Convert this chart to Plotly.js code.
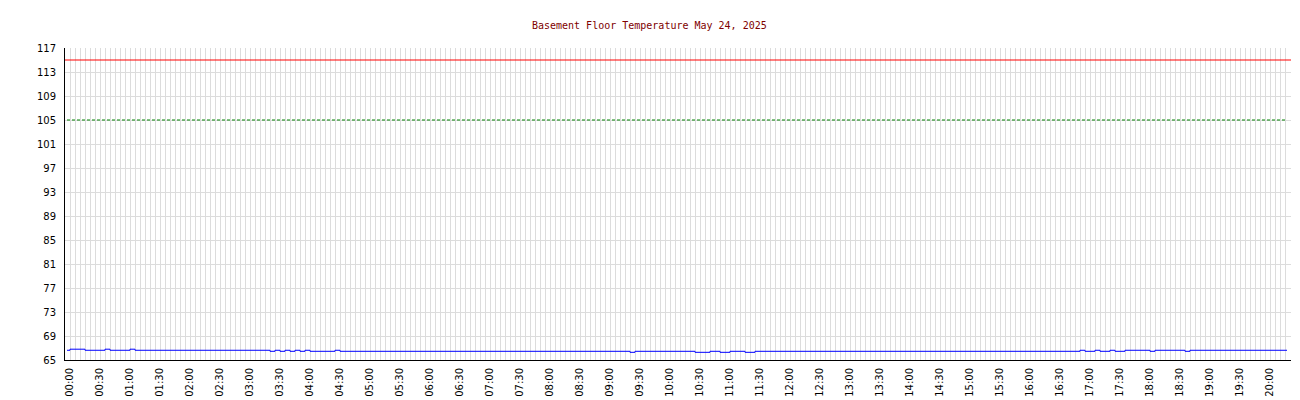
<!DOCTYPE html>
<html>
<head>
<meta charset="utf-8">
<script src="https://cdn.plot.ly/plotly-3.0.1.min.js"></script>
<style>html,body{margin:0;padding:0;background:#fff;}#chart{width:1300px;height:400px;}</style>
</head>
<body>
<div id="chart"></div>
<script>
// Data (step change points)
var times = [
  "2025-05-23 23:57", "2025-05-24 00:00", "2025-05-24 00:15", "2025-05-24 00:35",
  "2025-05-24 00:40", "2025-05-24 01:00", "2025-05-24 01:05", "2025-05-24 03:20",
  "2025-05-24 03:25", "2025-05-24 03:30", "2025-05-24 03:35", "2025-05-24 03:40",
  "2025-05-24 03:45", "2025-05-24 03:50", "2025-05-24 03:55", "2025-05-24 04:00",
  "2025-05-24 04:25", "2025-05-24 04:30", "2025-05-24 09:20", "2025-05-24 09:25",
  "2025-05-24 10:25", "2025-05-24 10:40", "2025-05-24 10:50", "2025-05-24 11:00",
  "2025-05-24 11:15", "2025-05-24 11:25", "2025-05-24 16:50", "2025-05-24 16:55",
  "2025-05-24 17:05", "2025-05-24 17:10", "2025-05-24 17:20", "2025-05-24 17:25",
  "2025-05-24 17:35", "2025-05-24 18:00", "2025-05-24 18:05", "2025-05-24 18:35",
  "2025-05-24 18:40", "2025-05-24 20:17"
];
var temps = [
  66.62, 66.80, 66.62, 66.80,
  66.62, 66.80, 66.62, 66.45,
  66.62, 66.45, 66.62, 66.45,
  66.62, 66.45, 66.62, 66.45,
  66.62, 66.45, 66.28, 66.45,
  66.28, 66.45, 66.28, 66.45,
  66.28, 66.45, 66.62, 66.45,
  66.62, 66.45, 66.62, 66.45,
  66.62, 66.45, 66.62, 66.45,
  66.62, 66.62
];
var alarmLimit = 115;
var warnLimit = 105;
var yTicks = [65, 69, 73, 77, 81, 85, 89, 93, 97, 101, 105, 109, 113, 117];
var chartTitle = "Basement Floor Temperature May 24, 2025";

var traces = [
  {
    x: [times[0], times[times.length - 1]],
    y: [warnLimit, warnLimit],
    mode: "lines",
    line: {color: "#008000", width: 1, dash: "3px,2px"},
    hoverinfo: "skip"
  },
  {
    x: times,
    y: temps,
    mode: "lines",
    line: {color: "#0000ff", width: 1, shape: "hv"}
  }
];

var layout = {
  width: 1300,
  height: 400,
  margin: {l: 65, r: 9, t: 48, b: 40, pad: 0},
  paper_bgcolor: "#ffffff",
  plot_bgcolor: "#ffffff",
  showlegend: false,
  title: {
    text: chartTitle,
    font: {family: "DejaVu Sans Mono, monospace", size: 10, color: "#800000"},
    x: 0.4995, xref: "container", xanchor: "center",
    y: 1 - 25 / 400, yref: "container", yanchor: "middle"
  },
  xaxis: {
    type: "date",
    range: ["2025-05-23 23:55", "2025-05-24 20:21"],
    tick0: "2025-05-24 00:00",
    dtick: 1800000,
    tickformat: "%H:%M",
    tickangle: -90,
    ticks: "",
    ticklabelstandoff: 3,
    showgrid: true,
    gridcolor: "#dcdcdc",
    gridwidth: 1,
    minor: {dtick: 300000, tick0: "2025-05-24 00:00", showgrid: true, gridcolor: "#dcdcdc", gridwidth: 1},
    showline: true,
    linecolor: "#000000",
    linewidth: 1,
    zeroline: false,
    tickfont: {family: "DejaVu Sans, sans-serif", size: 10, color: "#000000"},
    fixedrange: true
  },
  yaxis: {
    range: [65, 117],
    tickmode: "array",
    tickvals: yTicks,
    ticktext: yTicks.map(String),
    ticks: "",
    ticklabelstandoff: 6,
    showgrid: true,
    gridcolor: "#dcdcdc",
    gridwidth: 1,
    showline: true,
    linecolor: "#000000",
    linewidth: 1,
    zeroline: false,
    tickfont: {family: "DejaVu Sans, sans-serif", size: 10, color: "#000000"},
    fixedrange: true
  },
  shapes: [
    {type: "line", xref: "paper", x0: 0, x1: 1, yref: "y", y0: alarmLimit, y1: alarmLimit,
     line: {color: "#ff0000", width: 1}}
  ]
};

Plotly.newPlot("chart", traces, layout, {staticPlot: true, displayModeBar: false});
</script>
</body>
</html>
